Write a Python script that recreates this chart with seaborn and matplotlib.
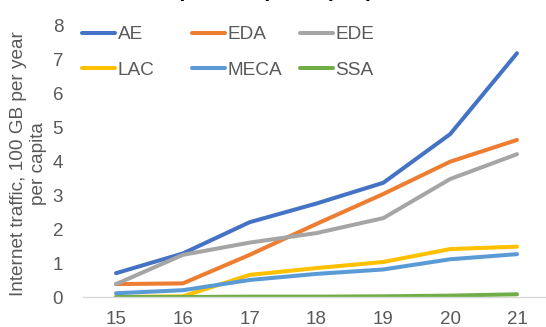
import matplotlib
matplotlib.use("Agg")
import matplotlib.pyplot as plt
import pandas as pd
import seaborn as sns

years = [15, 16, 17, 18, 19, 20, 21]
regions = ["AE", "EDA", "EDE", "LAC", "MECA", "SSA"]
ae = [0.70, 1.28, 2.20, 2.75, 3.36, 4.79, 7.17]
eda = [0.38, 0.40, 1.24, 2.15, 3.03, 3.98, 4.62]
ede = [0.38, 1.24, 1.60, 1.88, 2.32, 3.47, 4.20]
lac = [0.00, 0.02, 0.65, 0.85, 1.03, 1.41, 1.48]
meca = [0.11, 0.20, 0.50, 0.68, 0.81, 1.11, 1.26]
ssa = [0.00, 0.00, 0.01, 0.01, 0.02, 0.04, 0.08]
colors = ["#4472C4", "#ED7D31", "#A5A5A5", "#FFC000", "#5B9BD5", "#70AD47"]
y_ticks = [0, 1, 2, 3, 4, 5, 6, 7, 8]

series = dict(zip(regions, [ae, eda, ede, lac, meca, ssa]))
df = pd.DataFrame(
    [(r, x, v) for r in regions for x, v in zip(years, series[r])],
    columns=["region", "year", "traffic"],
)

sns.set_theme(style="white")
plt.rcParams["font.family"] = ["Liberation Sans", "DejaVu Sans"]
text_grey = "#595959"

W, H = 546, 327
fig = plt.figure(figsize=(W / 100, H / 100), dpi=100)
left, right, bottom, top = 82.6, 550.4, 297, 25
ax = fig.add_axes([left / W, (H - bottom) / H, (right - left) / W, (bottom - top) / H])

sns.lineplot(data=df, x="year", y="traffic", hue="region", hue_order=regions,
             palette=colors, linewidth=2.9, ax=ax, legend=True)

ax.set_xlim(14.5, 21.5)
ax.set_ylim(0, 8)
ax.set_xticks(years)
ax.set_xticklabels([str(y) for y in years])
ax.set_yticks(y_ticks)
ax.set_yticklabels([str(t) for t in y_ticks])
ax.tick_params(axis="both", length=0, labelsize=13.5, colors=text_grey)
ax.tick_params(axis="x", pad=10)
ax.tick_params(axis="y", pad=14)
ax.set_xlabel("")
for side in ["top", "right", "left"]:
    ax.spines[side].set_visible(False)
ax.spines["bottom"].set_color("#d9d9d9")
ax.spines["bottom"].set_linewidth(1.0)
ax.patch.set_alpha(0)

ax.set_ylabel("Internet traffic, 100 GB per year\nper capita", fontsize=13.7,
              color=text_grey, va="center", ha="center", multialignment="center",
              linespacing=1.2)
ax.yaxis.set_label_coords(28.5 / W, 0.5, transform=fig.transFigure)

# legend: three columns of two entries each
handles, labels = ax.get_legend_handles_labels()
lookup = dict(zip(labels, handles))
ax.get_legend().remove()
columns = [("AE", "LAC"), ("EDA", "MECA"), ("EDE", "SSA")]
col_x = [82, 192, 300]
for cx, names in zip(col_x, columns):
    leg = fig.legend([lookup[n] for n in names], list(names), loc="upper left",
                     bbox_to_anchor=(cx / W, 1 - 26 / H), frameon=False,
                     fontsize=13.7, handlelength=1.75, handletextpad=0.12,
                     borderpad=0, borderaxespad=0, labelspacing=0.95,
                     labelcolor=text_grey)
    for line in leg.get_lines():
        line.set_linewidth(2.9)

fig.text(275 / W, 1 + 4 / H, "(100 GB per capita)", ha="center", va="baseline",
         fontsize=15.5, fontweight="bold", color="black")

fig.savefig("out.png", dpi=100)
